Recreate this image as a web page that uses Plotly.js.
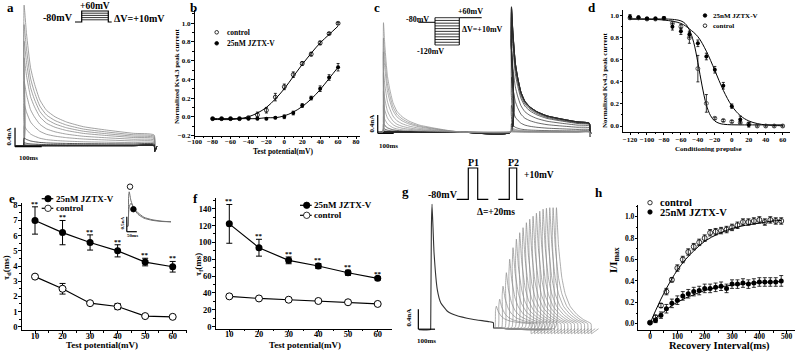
<!DOCTYPE html>
<html><head><meta charset="utf-8">
<script src="https://cdn.plot.ly/plotly-3.0.1.min.js"></script>
<style>html,body{margin:0;padding:0;background:#fff}#plot{width:800px;height:352px}</style>
</head><body><div id="plot"></div>
<script>
// ================= DATA =================
// --- panel a: Kv4.3 currents, test pulses -80..+60 mV (largest first) ---
const aPeak   = [2.96, 2.55, 2.20, 1.85, 1.35, 0.88, 0.42, 0.16, 0.06, 0.02, 0, 0, 0, 0, 0];   // nA
const aSteady = [0.225, 0.20, 0.175, 0.15, 0.12, 0.09, 0.06, 0.035, 0.015, 0.005, 0, 0, 0, 0, 0];
const aShapeT = [0, 1.5, 3, 12, 27, 41, 62, 87, 119, 162, 225, 312, 412, 490];   // ms
const aShapeS = [0, 0.7, 1, 0.78, 0.52, 0.40, 0.27, 0.19, 0.14, 0.10, 0.064, 0.038, 0.013, 0];
const aTailT = [492, 500], aTailI = [-0.12, -0.02];

// --- panel b: I-V ---
const bVolt = [-80,-70,-60,-50,-40,-30,-20,-10,0,10,20,30,40,50,60];
const bControl    = [-0.02,-0.02,-0.02,-0.02,-0.01,0.02,0.07,0.21,0.32,0.45,0.57,0.67,0.79,0.89,1.0];
const bControlErr = [0.01,0.01,0.01,0.01,0.01,0.03,0.03,0.04,0.03,0.03,0.02,0.02,0.02,0.01,0.01];
const bJztx       = [-0.02,-0.02,-0.02,-0.02,-0.02,-0.02,-0.02,-0.01,0.0,0.04,0.12,0.20,0.30,0.42,0.53];
const bJztxErr    = [0.01,0.01,0.01,0.01,0.01,0.01,0.01,0.01,0.02,0.02,0.02,0.02,0.03,0.03,0.04];
const bFitControl = [-0.03,-0.03,-0.03,-0.02,0.0,0.04,0.10,0.19,0.30,0.43,0.56,0.68,0.79,0.88,0.97];
const bFitJztx    = [-0.02,-0.02,-0.02,-0.02,-0.02,-0.02,-0.01,-0.01,0.01,0.05,0.11,0.19,0.29,0.41,0.53];

// --- panel c: steady-state inactivation currents ---
const cPrePeak  = [0,0,0,0,0,0,0,0,0,0.03,0.08,0.18,0.35,0.60,0.90,1.30,1.75,2.05,2.39];   // prepulse -120..+60
const cTestPeak = [2.74,2.73,2.72,2.71,2.70,2.62,2.50,2.30,1.78,1.20,0.58,0.18,0.10,0.07,0.05,0.03,0.02,0.01,0.0];
const cTestSteady = [0.19,0.19,0.19,0.19,0.19,0.18,0.17,0.16,0.13,0.09,0.05,0.02,0.01,0.01,0,0,0,0,0];
const cPrepulseDur = 800;   // ms
const cTailT = [492, 500], cTailI = [-0.1, -0.02];

// --- panel d: inactivation curve ---
const dVolt = [-120,-110,-100,-90,-80,-70,-60,-50,-40,-30,-20,-10,0,10,20,30,40,50,60];
const dJztx       = [0.99,0.985,0.975,0.975,0.98,0.90,0.86,0.83,0.75,0.63,0.51,0.365,0.18,0.06,0.01];
const dJztxErr    = [0.02,0.01,0.01,0.01,0.01,0.03,0.03,0.03,0.03,0.03,0.03,0.03,0.02,0.03,0.02];
const dControl    = [0.98,0.98,0.97,0.97,0.975,0.93,0.90,0.80,0.52,0.205,0.07,0.05,0.04,0.03,0.02,0.0,0.0,0.0,0.0];
const dControlErr = [0.01,0.01,0.01,0.01,0.01,0.02,0.02,0.05,0.12,0.08,0.01,0.01,0.01,0.01,0.01,0.01,0.01,0.01,0.01];
const dFitCtrlV = [-120,-100,-80,-70,-60,-55,-50,-45,-40,-35,-30,-25,-20,-15,-10,0,10,20,40,60];
const dFitCtrl  = [0.97,0.97,0.97,0.967,0.953,0.929,0.872,0.76,0.575,0.363,0.192,0.093,0.045,0.025,0.016,0.011,0.01,0.01,0.01,0.01];
const dFitJzV   = [-120,-100,-80,-60,-50,-40,-30,-20,-10,0,10,20,30,40,50,60];
const dFitJz    = [0.97,0.968,0.961,0.93,0.88,0.81,0.678,0.504,0.323,0.183,0.094,0.046,0.022,0.01,0.005,0.002];

// --- panel e: tau_d ---
const efVolt = [10,20,30,40,50,60];
const eJztx = [7.0,6.2,5.55,5.0,4.26,3.95];
const eJztxErr = [0.9,0.8,0.5,0.4,0.25,0.35];
const eControl = [3.3,2.5,1.55,1.33,0.7,0.65];
const eControlErr = [0.05,0.35,0.1,0.2,0.05,0.05];
// inset of e
const insetT = [0, 3, 6, 15, 30, 50, 80, 120, 170, 215];
const insetControl = [-0.1, 0.9, 1.05, 0.75, 0.48, 0.3, 0.17, 0.1, 0.06, 0.05];
const insetJztx    = [-0.1, 0.35, 0.55, 0.67, 0.5, 0.35, 0.2, 0.12, 0.07, 0.05];
const insetLabelT = [10, 27], insetLabelI = [1.22, 0.47];

// --- panel f: tau_f ---
const fJztx = [122,93.7,78.7,72,64,57.4];
const fJztxErr = [23,10,4,3,3,2];
const fControl = [36,33.5,32,30.5,29,27];
const fControlErr = [1.5,1.5,1.5,1.5,1.5,1.5];

// --- panel g: recovery currents ---
const gP1T = [-70, -1, 0, 4, 8, 20, 40, 60, 100, 150, 250, 350, 375, 376];
const gP1I = [-0.04, -0.04, 0.0, 2.0, 2.47, 1.5, 0.75, 0.5, 0.33, 0.25, 0.17, 0.12, 0.10, 0.0];
const gDelta = [0,20,40,60,80,100,120,140,160,180,200,220,240,260,280,300,320,340,360];
const gPeak = [0.43,0.57,0.83,1.10,1.37,1.60,1.77,1.90,2.00,2.10,2.17,2.23,2.29,2.33,2.37,2.39,2.40,2.40,2.40];
const gP2T = [0, 3, 8, 20, 40, 60, 90, 130, 170, 215];
const gP2S = [0, 0.75, 1, 0.68, 0.40, 0.26, 0.15, 0.08, 0.035, 0.0];
const gP2Steady = 0.08;
const gP2Offset = 385;
const gTailT = [217, 235, 260], gTailI = [-0.12, -0.08, -0.02];

// --- panel h: recovery ---
const hT = [0,20,40,60,80,100,120,140,160,180,200,220,240,260,280,300,320,340,360,380,400,420,440,460,480];
const hControl = [0.01,0.06,0.17,0.30,0.41,0.52,0.60,0.67,0.72,0.76,0.80,0.85,0.86,0.87,0.88,0.90,0.92,0.95,0.95,0.96,0.97,0.95,0.97,0.96,0.96];
const hControlErr = [0.01,0.02,0.02,0.03,0.02,0.03,0.03,0.03,0.03,0.03,0.03,0.03,0.03,0.03,0.03,0.03,0.03,0.03,0.03,0.03,0.03,0.03,0.03,0.03,0.03];
const hJztx = [0.01,0.03,0.08,0.14,0.19,0.22,0.26,0.28,0.30,0.31,0.33,0.33,0.34,0.35,0.33,0.37,0.37,0.38,0.37,0.38,0.39,0.39,0.39,0.39,0.40];
const hJztxErr = [0.01,0.02,0.03,0.04,0.04,0.04,0.04,0.04,0.04,0.04,0.04,0.04,0.04,0.04,0.04,0.04,0.04,0.04,0.04,0.04,0.04,0.04,0.04,0.04,0.05];
const hFitT = [0,20,40,60,80,100,130,160,200,250,300,350,400,450,480];
const hFitControl = [0.0,0.12,0.23,0.33,0.42,0.50,0.60,0.68,0.77,0.84,0.89,0.92,0.94,0.96,0.965];
const hFitJztx    = [0.0,0.05,0.09,0.13,0.17,0.20,0.24,0.27,0.31,0.34,0.36,0.375,0.385,0.39,0.395];

// ================= LAYOUT HELPERS =================
const W = 800, H = 352;
const FONT = 'Liberation Serif, Times New Roman, serif';
const fnt = (size, color) => ({family: FONT, size: size, color: color || '#000', weight: 'bold'});
const lin = (v1, p1, v2, p2, p) => v1 + (p - p1) * (v2 - v1) / (p2 - p1);
function mkX(l, r, v1, p1, v2, p2, anchor, opt) {
  return Object.assign({domain: [l / W, r / W], range: [lin(v1, p1, v2, p2, l), lin(v1, p1, v2, p2, r)], anchor: anchor, fixedrange: true}, opt);
}
function mkY(t, b, v1, p1, v2, p2, anchor, opt) {
  return Object.assign({domain: [1 - b / H, 1 - t / H], range: [lin(v1, p1, v2, p2, b), lin(v1, p1, v2, p2, t)], anchor: anchor, fixedrange: true}, opt);
}
function vis(dtick, minor, fs, fmt, standoff) {
  return {visible: true, showline: true, linecolor: '#000', linewidth: 1, ticks: 'outside', ticklen: 2.5, tickwidth: 1,
    tickcolor: '#000', dtick: dtick, tick0: 0, showgrid: false, zeroline: false, tickfont: fnt(fs), tickformat: fmt || '',
    tickangle: 0, ticklabelstandoff: standoff || 0, automargin: false,
    minor: {dtick: minor, ticks: 'outside', ticklen: 1.5, tickcolor: '#000', showgrid: false}};
}
const hid = {visible: false, showgrid: false, zeroline: false};

const layout = {
  width: W, height: H, margin: {l: 0, r: 0, t: 0, b: 0}, showlegend: false,
  paper_bgcolor: '#fff', plot_bgcolor: 'rgba(0,0,0,0)',
  // a traces
  xaxis:  mkX(0, 178, 0, 23.3, 100, 50, 'y', hid),
  yaxis:  mkY(0, 160, 0, 145.7, 0.4, 126.7, 'x', hid),
  // b
  xaxis2: mkX(194.5, 360, -100, 194.5, 80, 356, 'y2', vis(20, 10, 7, '', -3)),
  yaxis2: mkY(10, 135.5, -0.2, 135.5, 1.0, 23.3, 'x2', vis(0.2, 0.1, 7, '.1f', -1)),
  // c traces
  xaxis3: mkX(365, 600, 0, 383, 100, 399, 'y3', hid),
  yaxis3: mkY(0, 160, 0, 132, 0.4, 113.7, 'x3', hid),
  // d
  xaxis4: mkX(623, 790, -120, 630, 60, 782.7, 'y4', vis(20, 10, 7, '', -2)),
  yaxis4: mkY(10, 131.7, 0, 126, 1.0, 15.7, 'x4', vis(0.2, 0.1, 7, '.1f', -1)),
  // e
  xaxis5: mkX(21.7, 186.7, 10, 35, 60, 172.7, 'y5', vis(10, 5, 8.5, '', -5)),
  yaxis5: mkY(202.7, 330, 0, 326.7, 8, 205.3, 'x5', vis(1, 0.5, 8.5, '', -1)),
  // f
  xaxis6: mkX(215.7, 391.7, 10, 229.3, 60, 377.7, 'y6', vis(10, 5, 8.5, '', -5)),
  yaxis6: mkY(197.7, 328.7, 0, 326.7, 140, 208.7, 'x6', vis(20, 10, 8.5, '', -1)),
  // g traces
  xaxis7: mkX(400, 600, 0, 430.7, 100, 447.4, 'y7', hid),
  yaxis7: mkY(195, 345, 0, 327.7, 0.4, 307.7, 'x7', hid),
  // h
  xaxis8: mkX(638.3, 795, 0, 650, 500, 786.7, 'y8', vis(100, 50, 7.5, '', -4)),
  yaxis8: mkY(205.3, 330, 0, 323.7, 1.0, 216.7, 'x8', vis(0.2, 0.1, 7.5, '.1f', -1)),
  // e inset
  xaxis9: mkX(115, 180, 0, 128, 50, 138, 'y9', hid),
  yaxis9: mkY(182, 240, 0, 223.3, 0.5, 208.3, 'x9', hid)
};
layout.xaxis2.range[0] = -100.2;
layout.yaxis2.range[0] = -0.2005;

// ================= TRACES =================
const data = [];
const K = '#000';
// a
aPeak.forEach((pk, i) => {
  const ss = aSteady[i];
  const x = [-28].concat(aShapeT, aTailT);
  const y = [0].concat(aShapeT.map((t, j) => j === 0 ? 0 : ss + (pk - ss) * aShapeS[j]), aTailI);
  data.push({x, y, xaxis: 'x', yaxis: 'y', mode: 'lines', hoverinfo: 'skip',
    line: {color: pk > 0.3 ? '#8a8a8a' : '#2a2a2a', width: 0.8, shape: 'spline', smoothing: 0.5}});
});
// c
cPrePeak.forEach((pk, i) => {
  const pk2 = cTestPeak[i], ss2 = cTestSteady[i];
  const x = [-30].concat(aShapeT, [cPrepulseDur - 1], aShapeT.slice(1).map(t => cPrepulseDur + t), cTailT.map(t => cPrepulseDur + t));
  const y = [0].concat(aShapeT.map((t, j) => pk * aShapeS[j]), [0],
    aShapeT.slice(1).map((t, j) => ss2 + (pk2 - ss2) * aShapeS[j + 1]), cTailI);
  data.push({x, y, xaxis: 'x3', yaxis: 'y3', mode: 'lines', hoverinfo: 'skip',
    line: {color: i < 12 ? '#2a2a2a' : '#8a8a8a', width: 0.7, shape: 'spline', smoothing: 0.5}});
});
// g: P2 traces then P1
gDelta.forEach((dl, i) => {
  const on = gP2Offset + dl, pk = gPeak[i];
  const x = [gP1T[gP1T.length - 1], on].concat(gP2T.slice(1).map(t => on + t), gTailT.map(t => on + t));
  const y = [0, 0].concat(gP2S.slice(1).map(s => gP2Steady + (pk - gP2Steady) * s), gTailI);
  data.push({x, y, xaxis: 'x7', yaxis: 'y7', mode: 'lines', hoverinfo: 'skip',
    line: {color: '#8a8a8a', width: 0.7, shape: 'spline', smoothing: 0.4}});
});
data.push({x: gP1T, y: gP1I, xaxis: 'x7', yaxis: 'y7', mode: 'lines', hoverinfo: 'skip',
  line: {color: '#333', width: 1.1, shape: 'spline', smoothing: 0.4}});

// e inset
[insetControl, insetJztx].forEach(arr => {
  data.push({x: [-6].concat(insetT), y: [-0.1].concat(arr), xaxis: 'x9', yaxis: 'y9', mode: 'lines', hoverinfo: 'skip',
    line: {color: '#6f6f6f', width: 1, shape: 'spline', smoothing: 0.5}});
});
data.push({x: insetLabelT, y: insetLabelI, xaxis: 'x9', yaxis: 'y9', mode: 'markers', hoverinfo: 'skip',
  marker: {symbol: 'circle', size: 5.5, color: ['#fff', '#000'], line: {color: '#000', width: 0.9}}});

const eb = (arr, w, th) => ({type: 'data', array: arr, visible: true, color: '#000', thickness: th || 0.8, width: w || 1.5});
// b
data.push({x: bVolt, y: bFitControl, xaxis: 'x2', yaxis: 'y2', mode: 'lines', line: {color: K, width: 1, shape: 'spline'}});
data.push({x: bVolt, y: bFitJztx, xaxis: 'x2', yaxis: 'y2', mode: 'lines', line: {color: K, width: 1, shape: 'spline'}});
data.push({x: bVolt, y: bControl, error_y: eb(bControlErr), xaxis: 'x2', yaxis: 'y2', mode: 'markers',
  marker: {symbol: 'circle-open', size: 4, color: K, line: {width: 0.8}}});
data.push({x: bVolt, y: bJztx, error_y: eb(bJztxErr), xaxis: 'x2', yaxis: 'y2', mode: 'markers',
  marker: {symbol: 'circle', size: 4, color: K}});
// d
data.push({x: dFitCtrlV, y: dFitCtrl, xaxis: 'x4', yaxis: 'y4', mode: 'lines', line: {color: K, width: 1, shape: 'spline'}});
data.push({x: dFitJzV, y: dFitJz, xaxis: 'x4', yaxis: 'y4', mode: 'lines', line: {color: K, width: 1, shape: 'spline'}});
data.push({x: dVolt, y: dControl, error_y: eb(dControlErr), xaxis: 'x4', yaxis: 'y4', mode: 'markers',
  marker: {symbol: 'circle-open', size: 4, color: '#333', line: {width: 0.8}}});
data.push({x: dVolt.slice(0, dJztx.length), y: dJztx, error_y: eb(dJztxErr), xaxis: 'x4', yaxis: 'y4', mode: 'markers',
  marker: {symbol: 'circle', size: 4, color: K}});
// e
data.push({x: efVolt, y: eJztx, error_y: eb(eJztxErr, 3, 1), xaxis: 'x5', yaxis: 'y5', mode: 'lines+markers',
  line: {color: K, width: 1.2}, marker: {symbol: 'circle', size: 7, color: K}});
data.push({x: efVolt, y: eControl, error_y: eb(eControlErr, 3, 1), xaxis: 'x5', yaxis: 'y5', mode: 'lines+markers',
  line: {color: K, width: 1.2}, marker: {symbol: 'circle', size: 7, color: '#fff', line: {color: K, width: 1}}});
// f
data.push({x: efVolt, y: fJztx, error_y: eb(fJztxErr, 3, 1), xaxis: 'x6', yaxis: 'y6', mode: 'lines+markers',
  line: {color: K, width: 1.2}, marker: {symbol: 'circle', size: 7, color: K}});
data.push({x: efVolt, y: fControl, error_y: eb(fControlErr, 3, 1), xaxis: 'x6', yaxis: 'y6', mode: 'lines+markers',
  line: {color: K, width: 1.2}, marker: {symbol: 'circle', size: 7, color: '#fff', line: {color: K, width: 1}}});
// h
data.push({x: hFitT, y: hFitControl, xaxis: 'x8', yaxis: 'y8', mode: 'lines', line: {color: K, width: 1, shape: 'spline'}});
data.push({x: hFitT, y: hFitJztx, xaxis: 'x8', yaxis: 'y8', mode: 'lines', line: {color: K, width: 1, shape: 'spline'}});
data.push({x: hT, y: hControl, error_y: eb(hControlErr, 2), xaxis: 'x8', yaxis: 'y8', mode: 'markers',
  marker: {symbol: 'circle-open', size: 5, color: K, line: {width: 0.8}}});
data.push({x: hT, y: hJztx, error_y: eb(hJztxErr, 2), xaxis: 'x8', yaxis: 'y8', mode: 'markers',
  marker: {symbol: 'circle', size: 5, color: K}});

// ================= ANNOTATIONS =================
const anns = [];
function A(text, px, py, size, o) {
  anns.push(Object.assign({text, x: px / W, y: 1 - py / H, xref: 'paper', yref: 'paper', showarrow: false,
    xanchor: 'center', yanchor: 'middle', font: fnt(size)}, o || {}));
}
// panel letters
[['a', 10, 7], ['b', 193, 7], ['c', 377, 7], ['d', 592, 7], ['e', 12, 198], ['f', 195, 198], ['g', 405, 191], ['h', 599, 192]]
  .forEach(([t, x, y]) => A(t, x, y, 13));
// axis titles
A('Normalized Kv4.3 peak current', 177, 77, 7, {textangle: -90});
A('Test potential(mV)', 283, 151, 7.5);
A('Normalized Kv4.3 peak current', 605, 81, 7, {textangle: -90});
A('Conditioning prepulse', 708, 148.5, 7);
A('τ<sub>d</sub>(ms)', 6, 268, 9, {textangle: -90});
A('Test potential(mV)', 102, 345, 9);
A('τ<sub>f</sub>(ms)', 198, 265, 9, {textangle: -90});
A('Test potential(mV)', 305, 345, 9);
A('I/I<sub>max</sub>', 614, 260, 11, {textangle: -90});
A('Recovery Interval(ms)', 719, 346, 10.5);
// legends text
A('control', 225, 32.3, 7.5, {xanchor: 'left'});
A('25nM JZTX-V', 225, 43.3, 7.5, {xanchor: 'left'});
A('25nM JZTX-V', 711, 15.5, 7, {xanchor: 'left'});
A('control', 711, 25.7, 7, {xanchor: 'left'});
A('25nM JZTX-V', 54, 198.7, 9, {xanchor: 'left'});
A('control', 54, 208.3, 9, {xanchor: 'left'});
A('25nM JZTX-V', 311.7, 205.3, 9, {xanchor: 'left'});
A('control', 311.7, 215.3, 9, {xanchor: 'left'});
A('control', 658, 202.7, 10.5, {xanchor: 'left'});
A('25nM JZTX-V', 658, 212, 10.5, {xanchor: 'left'});
// protocol texts
A('+60mV', 95, 5.5, 9.5);
A('-80mV', 75, 17.5, 10, {xanchor: 'right'});
A('ΔV=+10mV', 111.5, 18, 10, {xanchor: 'left'});
A('-80mV', 417, 19.5, 8);
A('+60mV', 470, 11.7, 8);
A('ΔV=+10mV', 482, 29, 8);
A('-120mV', 430, 51, 8);
A('-80mV', 443, 194, 10);
A('P1', 473, 162, 10);
A('P2', 513, 162, 10);
A('+10mV', 539, 175, 9.5);
A('Δ=+20ms', 496, 211.7, 9.5);
// scale bar labels
A('0.4nA', 8.5, 137, 7, {textangle: -90});
A('100ms', 28, 158, 7);
A('0.4nA', 371.5, 124, 7, {textangle: -90});
A('100ms', 388, 145.5, 7);
A('0.4nA', 408.5, 318, 7, {textangle: -90});
A('100ms', 427, 341, 7);
A('0.5nA', 121.5, 223, 5, {textangle: -90});
A('50ms', 132, 235.5, 5);
// significance stars
efVolt.forEach((v, i) => {
  anns.push({text: '**', x: v, y: eJztx[i] + eJztxErr[i], xref: 'x5', yref: 'y5', showarrow: false, yanchor: 'bottom', yshift: -3, font: fnt(7)});
  anns.push({text: '**', x: v, y: fJztx[i] + fJztxErr[i], xref: 'x6', yref: 'y6', showarrow: false, yanchor: 'bottom', yshift: -3, font: fnt(7)});
});
layout.annotations = anns;

// ================= SHAPES =================
const shapes = [];
const P = (pts) => 'M ' + pts.map(([x, y]) => (x / W).toFixed(5) + ',' + (1 - y / H).toFixed(5)).join(' L ');
const path = (pts, w) => shapes.push({type: 'path', xref: 'paper', yref: 'paper', path: P(pts), line: {color: '#000', width: w || 1.2}});
// scale bars (in data units of each trace axis)
function scaleBar(xr, yr, t0, i0, ms, nA) {
  shapes.push({type: 'line', xref: xr, yref: yr, x0: t0, x1: t0, y0: i0, y1: i0 + nA, line: {color: '#000', width: 1.2}});
  shapes.push({type: 'line', xref: xr, yref: yr, x0: t0, x1: t0 + ms, y0: i0, y1: i0, line: {color: '#000', width: 1.2}});
}
scaleBar('x', 'y', -31, -0.02, 100, 0.4);
scaleBar('x3', 'y3', -33, -0.03, 100, 0.4);
scaleBar('x7', 'y7', -74, -0.03, 100, 0.4);
scaleBar('x9', 'y9', -6, -0.28, 50, 0.5);
// protocol a
path([[75, 22], [81.7, 22], [81.7, 11], [108.3, 11], [108.3, 22], [111.7, 22]]);
[13.2, 15.4, 17.6, 19.8].forEach(y => path([[81.7, y], [108.3, y]], 0.8));
// protocol c
path([[418.3, 22.3], [435, 22.3]], 1);
path([[435, 17.7], [435, 45]], 1);
path([[459.3, 17.7], [459.3, 45]], 1);
for (let k = 0; k <= 10; k++) { const y = 17.7 + k * 2.73; path([[435, y], [459.3, y]], 0.8); }
path([[459.3, 17.7], [481.7, 17.7]], 1);
// protocol g
path([[456.7, 199.3], [468.3, 199.3], [468.3, 168], [477.7, 168], [477.7, 199.3], [488.3, 199.3]]);
path([[498.3, 199.3], [509.3, 199.3], [509.3, 168], [516.7, 168], [516.7, 199.3], [523.3, 199.3]]);
// legend keys
function circ(cx, cy, r, filled) {
  shapes.push({type: 'circle', xref: 'paper', yref: 'paper', x0: (cx - r) / W, x1: (cx + r) / W, y0: 1 - (cy + r) / H, y1: 1 - (cy - r) / H,
    line: {color: '#000', width: 0.8}, fillcolor: filled ? '#000' : '#fff'});
}
function seg(x0, x1, y) { shapes.push({type: 'line', xref: 'paper', yref: 'paper', x0: x0 / W, x1: x1 / W, y0: 1 - y / H, y1: 1 - y / H, line: {color: '#000', width: 1.2}}); }
circ(216.7, 32.3, 1.8, false); circ(216.7, 43.3, 1.8, true);
circ(705, 15.5, 1.8, true); circ(705, 25.7, 1.8, false);
seg(41.7, 53.3, 198.7); circ(48, 198.7, 3.2, true);
seg(41.7, 53.3, 208.3); circ(48, 208.3, 3.2, false);
seg(300, 311.7, 205.3); circ(306.7, 205.3, 3.2, true);
seg(300, 311.7, 215.3); circ(306.7, 215.3, 3.2, false);
circ(650, 202.7, 2.2, false); circ(650, 212, 2.2, true);
layout.shapes = shapes;

Plotly.newPlot('plot', data, layout, {staticPlot: true, displayModeBar: false});
</script>
</body></html>
